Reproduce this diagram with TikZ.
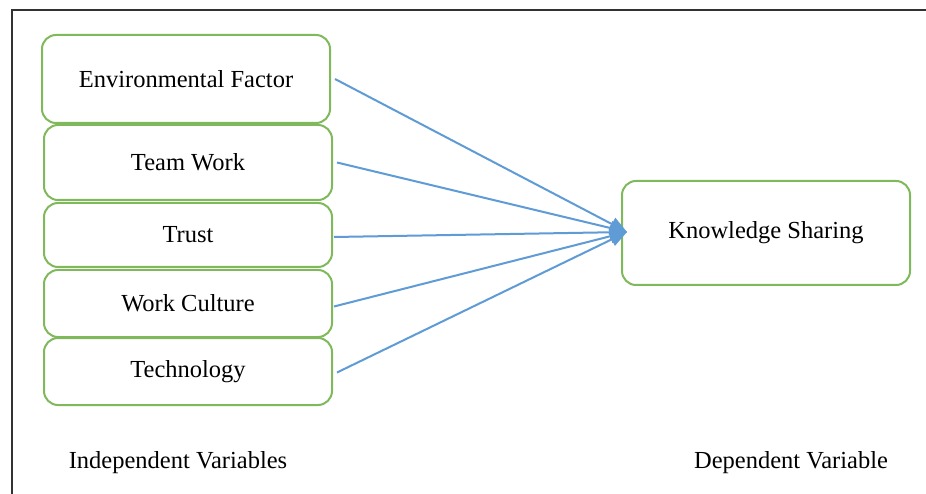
\documentclass[tikz,border=0pt]{standalone}
\usepackage{fontspec}
\setmainfont{Liberation Serif}
\usetikzlibrary{arrows.meta}
\definecolor{boxgreen}{RGB}{128,185,92}
\definecolor{arrowblue}{RGB}{95,155,213}
\definecolor{framegray}{RGB}{50,50,50}
\begin{document}
\begin{tikzpicture}[x=1pt,y=-1pt,
  varbox/.style={draw=boxgreen, line width=2pt, rounded corners=14pt, fill=white,
    minimum width=288pt, inner sep=0pt, font=\fontsize{24.5}{29}\selectfont},
  link/.style={draw=arrowblue, line width=2pt, -{Triangle[length=17pt,width=14pt]}},
  lab/.style={inner sep=0pt, font=\fontsize{24.5}{29}\selectfont}]
\useasboundingbox (0,0) rectangle (926,494);
\fill[white] (0,0) rectangle (926,494);
\draw[line width=2.2pt, framegray] (12,494) -- (12,10) -- (926,10);
\node[varbox, minimum height=88pt] (env) at (186,79) {Environmental Factor};
\node[varbox, minimum height=75pt] (team) at (188,162.5) {Team Work};
\node[varbox, minimum height=64pt] (trust) at (188,235) {Trust};
\node[varbox, minimum height=67pt] (cult) at (188,303.5) {Work Culture};
\node[varbox, minimum height=67pt] (tech) at (188,371.5) {Technology};
\node[varbox, minimum height=104pt] (ks) at (766,233) {Knowledge Sharing};
\coordinate (tip) at ([xshift=6pt,yshift=1pt]ks.west);
\draw[link] ([xshift=4pt]env.east) -- (tip);
\draw[link] ([xshift=4pt]team.east) -- (tip);
\draw[link] ([xshift=1pt,yshift=-2pt]trust.east) -- (tip);
\draw[link] ([xshift=1pt,yshift=-3pt]cult.east) -- (tip);
\draw[link] ([xshift=4pt,yshift=-1pt]tech.east) -- (tip);
\node[lab] (indep) at (178,463) {Independent Variables};
\node[lab] (dep) at (791,463) {Dependent Variable};
\end{tikzpicture}
\end{document}
